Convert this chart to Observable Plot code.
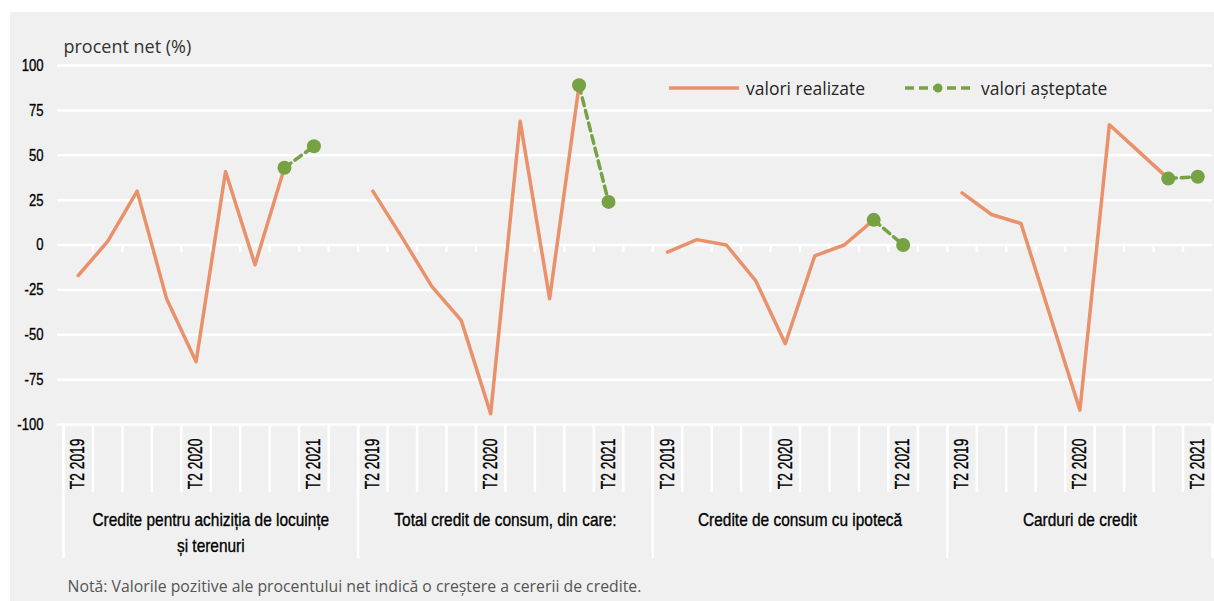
<!DOCTYPE html>
<html><head><meta charset="utf-8">
<script src="https://cdn.jsdelivr.net/npm/d3@7"></script>
<script src="https://cdn.jsdelivr.net/npm/@observablehq/plot@0.6"></script>
<style>
html,body{margin:0;padding:0;background:#fff;}
#wrap{position:relative;width:1214px;height:601px;overflow:hidden;}
#bg{position:absolute;left:10px;top:12px;right:0;bottom:0;background:#f0f0f0;}
#chart{position:absolute;left:0;top:0;}
.leg{position:absolute;top:78px;height:20px;display:flex;align-items:center;font-family:"Open Sans",sans-serif;font-size:17.5px;color:#262626;white-space:nowrap;}
.leg svg{margin-right:7px;}
</style></head>
<body><div id="wrap"><div id="bg"></div><div id="chart"></div>
<div class="leg" style="left:669px"><svg width="70" height="12"><line x1="1" x2="69" y1="6" y2="6" stroke="#E8916B" stroke-width="3.5" stroke-linecap="round"/></svg><span>valori realizate</span></div>
<div class="leg" style="left:904px"><svg width="70" height="12"><line x1="1" x2="69" y1="6" y2="6" stroke="#76A244" stroke-width="3.5" stroke-dasharray="9,5"/><circle cx="34" cy="6" r="4.5" fill="#76A244"/></svg><span>valori așteptate</span></div>
</div>
<script>
const quarters = ["T2 2019","T3 2019","T4 2019","T1 2020","T2 2020","T3 2020","T4 2020","T1 2021","T2 2021"];
const shownTicks = ["T2 2019","T2 2020","T2 2021"];
const expectedQuarters = ["T1 2021","T2 2021"];
const groupNames = ["Credite pentru achiziția de locuințe\nși terenuri","Total credit de consum, din care:","Credite de consum cu ipotecă","Carduri de credit"];
const groupSlots = [10,10,10,9];
const realizedLocuinte = [-17,2,30,-30,-65,41,-11,43];
const realizedConsum   = [30,4,-23,-42,-94,69,-30,89];
const realizedIpoteca  = [-4,3,0,-20,-55,-6,0,14];
const realizedCarduri  = [29,17,12,-40,-92,67,52,37];
const expectedLocuinte = [43,55];
const expectedConsum   = [89,24];
const expectedIpoteca  = [14,0];
const expectedCarduri  = [37,38];
const yTicks = [-100,-75,-50,-25,0,25,50,75,100];
const yTitle = "procent net (%)";
const noteText = "Notă: Valorile pozitive ale procentului net indică o creștere a cererii de credite.";

const orange = "#E8916B", green = "#76A244";
const baseFont = "'Liberation Sans',Arial,sans-serif";
const regular = "'Open Sans','Noto Sans',sans-serif";

const realizedSeries = [realizedLocuinte, realizedConsum, realizedIpoteca, realizedCarduri];
const expectedSeries = [expectedLocuinte, expectedConsum, expectedIpoteca, expectedCarduri];
const offsets = groupSlots.map((_, g) => d3.sum(groupSlots.slice(0, g)));
const totalSlots = d3.sum(groupSlots);
const pos = (g, q) => offsets[g] + quarters.indexOf(q) + 0.5;

const realizedRows = realizedSeries.flatMap((vals, g) => vals.map((v, i) => ({g, x: pos(g, quarters[i]), y: v})));
const expectedRows = expectedSeries.flatMap((vals, g) => vals.map((v, i) => ({g, x: pos(g, expectedQuarters[i]), y: v})));
const tickRows = groupNames.flatMap((_, g) => quarters.map(q => ({x: pos(g, q), label: shownTicks.includes(q) ? q : ""})));
const boundaries = d3.range(totalSlots + 1);
const innerBoundaries = boundaries.filter(b => b > 0 && b < totalSlots);
const groupEdges = [...offsets, totalSlots];
const groupRows = groupNames.map((name, g) => ({x: offsets[g] + groupSlots[g] / 2, name}));
const tickShape = {draw(context, l) { context.moveTo(0, 0); context.lineTo(0, -l); }};

const sizeTick = 17, sizeQuarter = 19.5, sizeGroup = 18.6;

const chart = Plot.plot({
  width: 1214, height: 601,
  marginTop: 65, marginBottom: 177, marginLeft: 63, marginRight: 2,
  x: {type: "linear", domain: [0, totalSlots]},
  y: {domain: [-100, 100]},
  style: {background: "transparent", fontFamily: baseFont, overflow: "visible"},
  marks: [
    Plot.gridY(yTicks, {stroke: "white", strokeOpacity: 1, strokeWidth: 2.5}),
    Plot.axisY(yTicks, {tickSize: 6, tickPadding: 14, stroke: "white", strokeOpacity: 1, strokeWidth: 2.5, fill: "#000", fontSize: sizeTick, tickFormat: d => String(d), label: null}),
    Plot.axisX(boundaries, {tickSize: 68, tickPadding: 0, stroke: "white", strokeOpacity: 1, strokeWidth: 2.5, tickFormat: () => "", label: null}),
    Plot.axisX(groupEdges, {tickSize: 134, tickPadding: 0, stroke: "white", strokeOpacity: 1, strokeWidth: 2.5, tickFormat: () => "", label: null}),
    Plot.vector(innerBoundaries, {x: d => d, y: () => 0, length: 6, rotate: 180, anchor: "start", shape: tickShape, stroke: "white", strokeWidth: 2.5}),
    Plot.line(realizedRows, {x: "x", y: "y", z: "g", stroke: orange, strokeWidth: 3.5, strokeLinejoin: "round", strokeLinecap: "round"}),
    Plot.line(expectedRows, {x: "x", y: "y", z: "g", stroke: green, strokeWidth: 3.5, strokeDasharray: "8,5"}),
    Plot.dot(expectedRows, {x: "x", y: "y", r: 7, fill: green}),
    Plot.text(tickRows, {x: "x", text: "label", frameAnchor: "bottom", rotate: -90, textAnchor: "end", lineAnchor: "middle", dy: 14, fontSize: sizeQuarter, fill: "#000"}),
    Plot.text(groupRows, {x: "x", text: "name", frameAnchor: "bottom", dy: 83, lineAnchor: "top", lineHeight: 1.4, fontSize: sizeGroup, fill: "#000"}),
    Plot.text([yTitle], {text: d => d, frameAnchor: "top-left", dy: -18, textAnchor: "start", lineAnchor: "middle", fontFamily: regular, fontSize: 18, fill: "#333"}),
    Plot.text([noteText], {text: d => d, frameAnchor: "bottom-left", dx: 4, dy: 162, textAnchor: "start", lineAnchor: "middle", fontFamily: regular, fontSize: 15.8, fill: "#555"})
  ]
});
document.getElementById("chart").appendChild(chart);

// condense the Liberation Sans labels to a condensed-face width
const narrowFactor = {[sizeTick]: 0.77, [sizeQuarter]: 0.71, [sizeGroup]: 0.83};
chart.querySelectorAll("text").forEach(t => {
  if (t.closest("g[font-family]")) return;
  const g = t.closest("g[font-size]");
  const f = g ? narrowFactor[+g.getAttribute("font-size")] : undefined;
  if (!f) return;
  t.setAttribute("stroke", "#000");
  t.setAttribute("stroke-width", "0.45");
  t.setAttribute("stroke-opacity", "0.8");
  const parts = t.querySelectorAll("tspan");
  (parts.length ? Array.from(parts) : [t]).forEach(el => {
    const w = el.getComputedTextLength();
    if (w > 0) {
      el.setAttribute("textLength", (w * f).toFixed(2));
      el.setAttribute("lengthAdjust", "spacingAndGlyphs");
    }
  });
});
</script>
</body></html>
